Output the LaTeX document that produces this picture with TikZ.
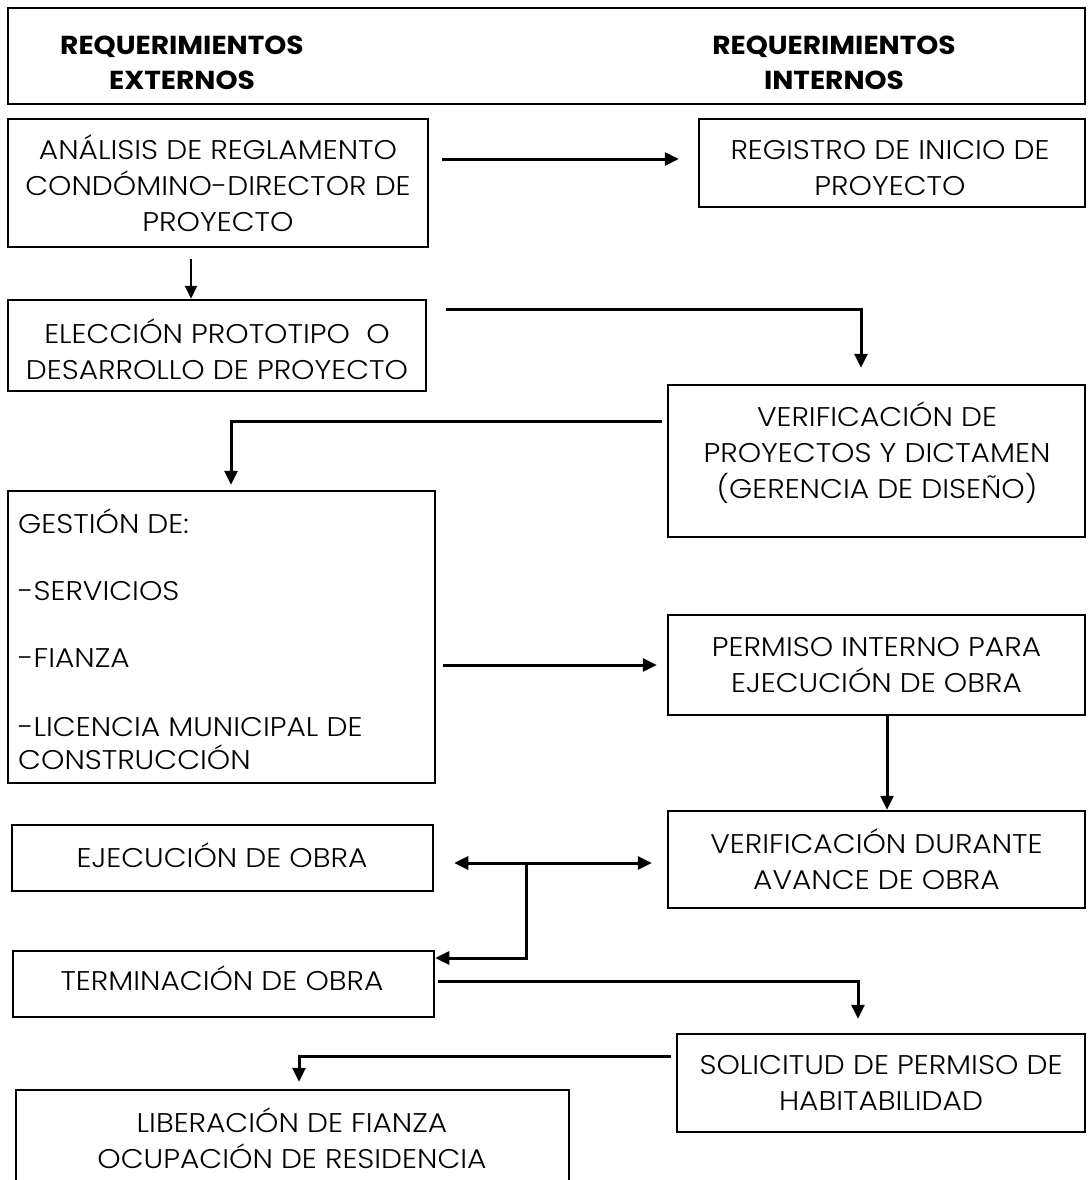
\documentclass[tikz,border=0pt]{standalone}
\usepackage{fontspec}
\setmainfont{Poppins}[UprightFont={* Light}, FakeStretch=1.1]
\newfontfamily\hdrfont{Poppins}[FakeStretch=1.08]
\usetikzlibrary{arrows.meta}
\newcommand\bodyfont{\fontsize{27}{36}\selectfont}
\newcommand\headfont{\hdrfont\bfseries\fontsize{26}{35}\selectfont}
\tikzset{
  box/.style={draw, line width=2.5pt, inner sep=0pt, align=center, font=\bodyfont},
  txt/.style={inner sep=0pt, align=center, font=\bodyfont},
  ltxt/.style={inner sep=0pt, anchor=base west, font=\bodyfont},
  htxt/.style={inner sep=0pt, align=center, font=\headfont},
  arr/.style={line width=3pt, -{Triangle[length=14pt,width=13pt]}},
  arrthin/.style={line width=2pt, -{Triangle[length=13pt,width=12pt]}},
  dblarr/.style={line width=3pt, {Triangle[length=14pt,width=13pt]}-{Triangle[length=14pt,width=13pt]}}
}
\begin{document}
\begin{tikzpicture}[x=1pt,y=-1pt]
\useasboundingbox (0,0) rectangle (1089,1180);
\clip (0,0) rectangle (1089,1180);
\fill[white] (0,0) rectangle (1089,1180);
% header
\node[box, minimum width=1077, minimum height=96] (hdr) at (546.5,56) {};
\node[htxt] (hl) at (182,63) {REQUERIMIENTOS\\EXTERNOS};
\node[htxt] (hr) at (834,63) {REQUERIMIENTOS\\INTERNOS};
% boxes
\node[box, minimum width=420, minimum height=128] (anal) at (218,183) {ANÁLISIS DE REGLAMENTO\\CONDÓMINO-DIRECTOR DE\\PROYECTO};
\node[box, minimum width=386, minimum height=88] (reg) at (892,163) {};
\node[txt] (regtxt) at (890,168) {REGISTRO DE INICIO DE\\PROYECTO};
\node[box, minimum width=418, minimum height=91] (elec) at (217,345.5) {};
\node[txt] (electxt) at (217,349) {ELECCIÓN PROTOTIPO\ \ O\\DESARROLLO DE PROYECTO};
\node[box, minimum width=417, minimum height=152] (verif) at (876.5,461) {};
\node[txt] (veriftxt) at (877,453) {VERIFICACIÓN DE\\PROYECTOS Y DICTAMEN\\(GERENCIA DE DISEÑO)};
\node[box, minimum width=427, minimum height=292] (gest) at (221.5,637) {};
\node[ltxt] (g1) at (18,533) {GESTIÓN DE:};
\node[ltxt] (g2) at (18,600) {-SERVICIOS};
\node[ltxt] (g3) at (18,667) {-FIANZA};
\node[ltxt] (g4) at (18,736) {-LICENCIA MUNICIPAL DE};
\node[ltxt] (g5) at (18,769) {CONSTRUCCIÓN};
\node[box, minimum width=417, minimum height=100] (perm) at (876.5,665) {PERMISO INTERNO PARA\\EJECUCIÓN DE OBRA};
\node[box, minimum width=417, minimum height=97] (vdur) at (876.5,859.5) {VERIFICACIÓN DURANTE\\AVANCE DE OBRA};
\node[box, minimum width=421, minimum height=66] (ejec) at (222.5,858) {};
\node[txt] (ejectxt) at (222,855) {EJECUCIÓN DE OBRA};
\node[box, minimum width=421, minimum height=66] (term) at (223.5,984) {};
\node[txt] (termtxt) at (222,978) {TERMINACIÓN DE OBRA};
\node[box, minimum width=408, minimum height=98] (sol) at (881,1083) {SOLICITUD DE PERMISO DE\\HABITABILIDAD};
\node[box, minimum width=553, minimum height=105] (lib) at (292.5,1142.5) {};
\node[txt] (libtxt) at (292,1138) {LIBERACIÓN DE FIANZA\\OCUPACIÓN DE RESIDENCIA};
% connectors
\draw[arr, shorten <=13pt, shorten >=19pt] (anal.east |- 0,159) -- (reg.west |- 0,159);
\draw[arrthin, shorten <=11pt] (anal.south -| 191,0) -- (elec.north -| 191,0);
\draw[arr, shorten <=19pt, shorten >=16pt] (elec.east |- 0,309) -| (verif.north -| 861,0);
\draw[arr, shorten <=5pt, shorten >=5pt] (verif.west |- 0,421) -| (gest.north -| 231,0);
\draw[arr, shorten <=7pt, shorten >=10pt] (gest.east |- 0,665) -- (perm.west |- 0,665);
\draw[arr] (perm.south -| 887,0) -- (vdur.north -| 887,0);
\draw[dblarr, shorten <=20pt, shorten >=15pt] (ejec.east |- 0,863) -- (vdur.west |- 0,863);
\coordinate (jn) at (526,863);
\draw[arr] (jn) |- (term.east |- 0,958);
\draw[arr, shorten <=3pt, shorten >=14pt] (term.east |- 0,981) -| (sol.north -| 858,0);
\draw[arr, shorten <=5pt, shorten >=7pt] (sol.west |- 0,1056) -| (lib.north -| 299,0);
\end{tikzpicture}
\end{document}
